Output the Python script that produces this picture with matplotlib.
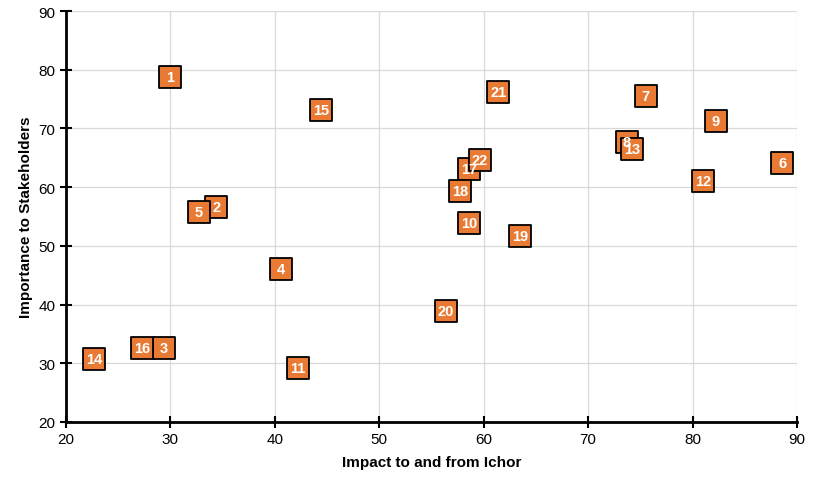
import matplotlib
matplotlib.use("Agg")
import matplotlib.pyplot as plt

labels = [str(i) for i in range(1, 23)]
impact = [30.0, 34.4, 29.4, 40.6, 32.7, 88.6, 75.5, 73.7, 82.2, 58.6, 42.2,
          81.0, 74.2, 22.7, 44.4, 27.3, 58.6, 57.7, 63.5, 56.4, 61.4, 59.6]
importance = [78.8, 56.6, 32.6, 46.0, 55.8, 64.1, 75.5, 67.7, 71.3, 53.9, 29.2,
              61.0, 66.5, 30.7, 73.1, 32.6, 63.1, 59.3, 51.7, 38.9, 76.2, 64.6]

plt.rcParams['font.family'] = ['Liberation Sans', 'DejaVu Sans']

fig = plt.figure(figsize=(8.15, 4.85), dpi=100)
ax = fig.add_axes([66/815, 62/485, 731/815, 411/485])

for i, (x, y) in enumerate(zip(impact, importance)):
    ax.scatter([x], [y], marker='s', s=240, facecolor='#E87A33',
               edgecolor='black', linewidth=1.3, zorder=3 + i)
for x, y, lab in zip(impact, importance, labels):
    ax.text(x, y, lab, ha='center', va='center', color='white',
            fontsize=10.5, fontweight='bold', zorder=40)

ax.set_xlim(20, 90)
ax.set_ylim(20, 90)
ax.set_xticks(range(20, 91, 10))
ax.set_yticks(range(20, 91, 10))
ax.grid(True, color='#D9D9D9', linewidth=0.9)
ax.set_axisbelow(True)
for s in ['top', 'right']:
    ax.spines[s].set_visible(False)
for s in ['left', 'bottom']:
    ax.spines[s].set_linewidth(2)
    ax.spines[s].set_color('black')
ax.tick_params(direction='inout', length=8, width=1.5, labelsize=11, colors='black')
ax.set_xlabel('Impact to and from Ichor', fontsize=11, fontweight='bold', labelpad=6)
ax.set_ylabel('Importance to Stakeholders', fontsize=11, fontweight='bold', labelpad=4)

fig.savefig('out.png', dpi=100)
